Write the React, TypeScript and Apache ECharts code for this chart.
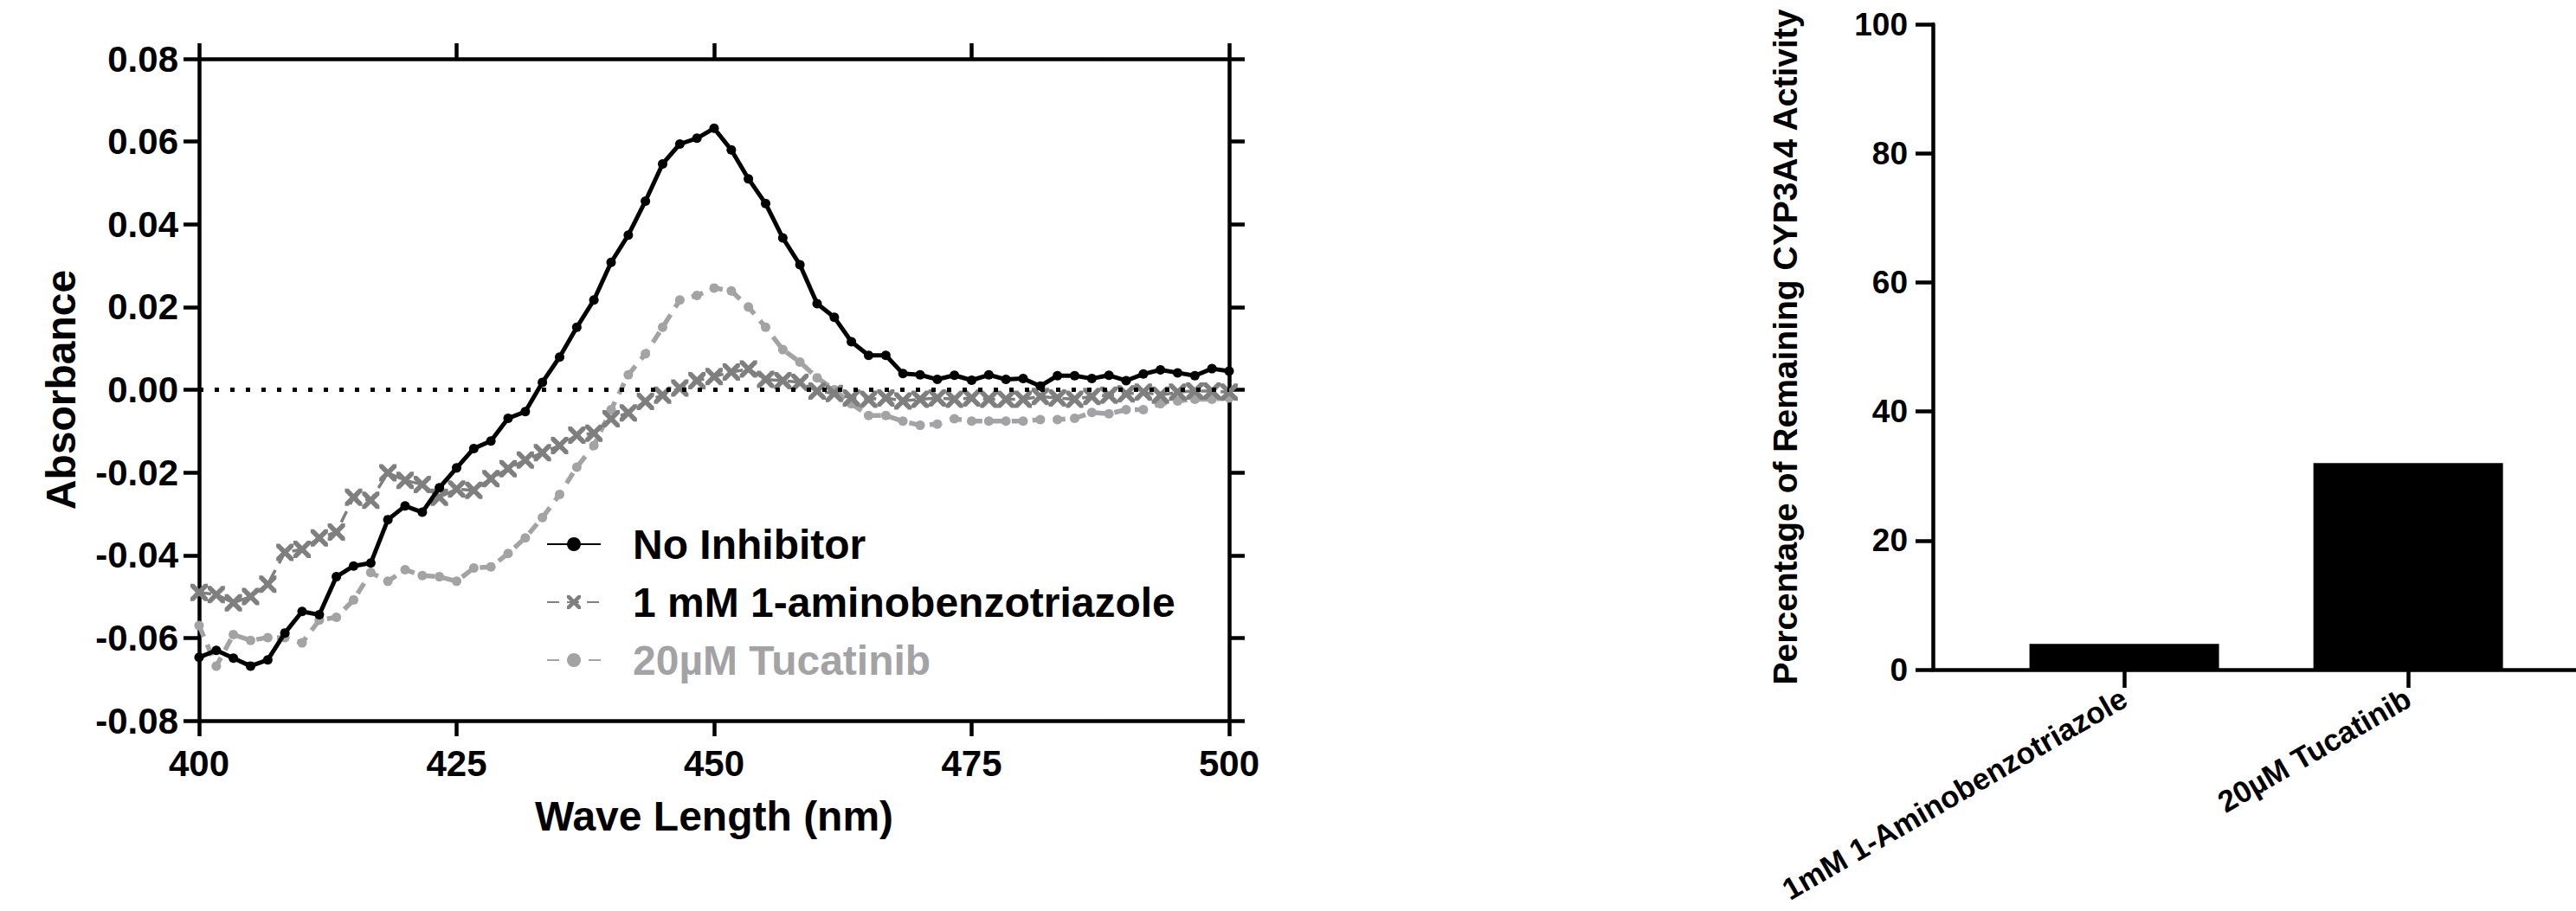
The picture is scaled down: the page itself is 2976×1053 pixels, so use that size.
import React, { useEffect, useRef } from "react";
import * as echarts from "echarts";

// ---------- Data ----------
const wavelengths = [
  400, 401.67, 403.33, 405, 406.67, 408.33, 410, 411.67, 413.33, 415,
  416.67, 418.33, 420, 421.67, 423.33, 425, 426.67, 428.33, 430, 431.67,
  433.33, 435, 436.67, 438.33, 440, 441.67, 443.33, 445, 446.67, 448.33,
  450, 451.67, 453.33, 455, 456.67, 458.33, 460, 461.67, 463.33, 465,
  466.67, 468.33, 470, 471.67, 473.33, 475, 476.67, 478.33, 480, 481.67,
  483.33, 485, 486.67, 488.33, 490, 491.67, 493.33, 495, 496.67, 498.33, 500,
];

const noInhibitor = [
  -0.0647, -0.063, -0.0649, -0.0668, -0.0653, -0.0588, -0.0536, -0.0544, -0.0452, -0.0426,
  -0.0419, -0.0314, -0.0281, -0.0296, -0.0237, -0.0189, -0.0142, -0.0124, -0.0069, -0.0053,
  0.0018, 0.0079, 0.0151, 0.0217, 0.0308, 0.0374, 0.0456, 0.0546, 0.0594, 0.0608,
  0.0632, 0.058, 0.051, 0.045, 0.0367, 0.0302, 0.0208, 0.0175, 0.0116, 0.0083,
  0.0083, 0.0039, 0.0036, 0.0025, 0.0035, 0.0023, 0.0036, 0.0025, 0.0027, 0.0009,
  0.0034, 0.0034, 0.0027, 0.0035, 0.0022, 0.0038, 0.0048, 0.0041, 0.0034, 0.0051, 0.0045,
];

const aminobenzotriazole = [
  -0.049, -0.0495, -0.0515, -0.05, -0.047, -0.0393, -0.0386, -0.0358, -0.0344, -0.026,
  -0.0267, -0.0201, -0.0219, -0.0229, -0.026, -0.024, -0.0243, -0.0215, -0.0191, -0.017,
  -0.0152, -0.0135, -0.011, -0.0105, -0.007, -0.0056, -0.0028, -0.0013, 0.0004, 0.0022,
  0.0032, 0.0043, 0.005, 0.0025, 0.0022, 0.0018, -0.0003, -0.0009, -0.002, -0.0023,
  -0.002, -0.0027, -0.0023, -0.002, -0.0023, -0.002, -0.0023, -0.0023, -0.0023, -0.0016,
  -0.002, -0.0023, -0.0016, -0.0013, -0.001, -0.0006, -0.0013, -0.0006, -0.0003, -0.0003, -0.0006,
];

const tucatinib = [
  -0.057, -0.0668, -0.0592, -0.0606, -0.0599, -0.0599, -0.0612, -0.0557, -0.055, -0.0508,
  -0.0442, -0.0463, -0.0435, -0.0449, -0.0452, -0.0463, -0.0431, -0.0428, -0.0396, -0.0358,
  -0.0309, -0.0253, -0.0187, -0.0135, -0.0048, 0.0036, 0.0087, 0.0151, 0.0217, 0.0228,
  0.0246, 0.0239, 0.02, 0.0151, 0.0097, 0.0067, 0.0029, 0.0, -0.0034, -0.0062,
  -0.0062, -0.0076, -0.0086, -0.0083, -0.007, -0.0076, -0.0076, -0.0076, -0.0076, -0.0072,
  -0.0072, -0.0069, -0.0055, -0.0058, -0.0048, -0.0048, -0.0034, -0.0027, -0.0023, -0.0023, -0.002,
];

const seriesNames = ["No Inhibitor", "1 mM 1-aminobenzotriazole", "20µM Tucatinib"];

const barCategories = ["1mM 1-Aminobenzotriazole", "20µM Tucatinib"];
const barValues = [4, 32];

// ---------- Styles ----------
const FONT = "'Liberation Sans', Arial, Helvetica, sans-serif";
const BLACK = "#000000";
const GRAY = "#7f7f7f";
const LIGHT = "#a3a3a6";
const AXW = 4.5;

const X_SYMBOL =
  "path://M0,0L4,0L10,6L16,0L20,0L20,4L14,10L20,16L20,20L16,20L10,14L4,20L0,20L0,16L6,10L0,4Z";

const pairs = (ys: number[]) => wavelengths.map((x, i) => [x, ys[i]]);

function buildOption(): any {
  const axisLineStyle = { color: BLACK, width: AXW };
  const labelStyle = {
    color: BLACK,
    fontFamily: FONT,
    fontWeight: "bold",
  };
  return {
    animation: false,
    backgroundColor: "#ffffff",
    grid: [
      { left: 230, top: 68, width: 1190, height: 765, containLabel: false, outerBoundsMode: "none" },
      { left: 2233, top: 28, width: 743, height: 746, containLabel: false, outerBoundsMode: "none" },
    ],
    legend: {
      orient: "vertical",
      left: 626,
      top: 600,
      itemWidth: 62,
      itemHeight: 20,
      itemGap: 19,
      selectedMode: false,
      textStyle: {
        ...labelStyle,
        fontSize: 48,
        lineHeight: 48,
        padding: [0, 0, 0, 32],
      },
      data: [
        { name: seriesNames[0], textStyle: { color: BLACK } },
        { name: seriesNames[1], textStyle: { color: BLACK } },
        { name: seriesNames[2], textStyle: { color: LIGHT } },
      ],
    },
    xAxis: [
      {
        gridIndex: 0,
        type: "value",
        position: "bottom",
        min: 400,
        max: 500,
        interval: 25,
        axisLine: { onZero: false, lineStyle: axisLineStyle },
        axisTick: { show: true, length: 18, lineStyle: axisLineStyle },
        axisLabel: { ...labelStyle, fontSize: 42, margin: 28 },
        splitLine: { show: false },
        name: "Wave Length (nm)",
        nameLocation: "middle",
        nameGap: 86,
        nameTextStyle: { ...labelStyle, fontSize: 48 },
      },
      {
        gridIndex: 0,
        type: "value",
        position: "top",
        min: 400,
        max: 500,
        interval: 25,
        axisLine: { onZero: false, lineStyle: axisLineStyle },
        axisTick: { show: true, length: 18, lineStyle: axisLineStyle },
        axisLabel: { show: false },
        splitLine: { show: false },
      },
      {
        gridIndex: 1,
        type: "value",
        position: "bottom",
        min: -0.674,
        max: 1.591,
        axisLine: { onZero: false, lineStyle: axisLineStyle },
        axisTick: {
          show: true,
          length: 21,
          lineStyle: axisLineStyle,
          customValues: [0, 1],
        },
        axisLabel: {
          ...labelStyle,
          fontSize: 35,
          rotate: 30,
          margin: 30,
          customValues: [0, 1],
          formatter: (v: number) => barCategories[Math.round(v)] ?? "",
        },
        splitLine: { show: false },
      },
    ],
    yAxis: [
      {
        gridIndex: 0,
        type: "value",
        position: "left",
        min: -0.08,
        max: 0.08,
        interval: 0.02,
        axisLine: { onZero: false, lineStyle: axisLineStyle },
        axisTick: { show: true, length: 18, lineStyle: axisLineStyle },
        axisLabel: {
          ...labelStyle,
          fontSize: 42,
          margin: 24,
          formatter: (v: number) => v.toFixed(2),
        },
        splitLine: { show: false },
        name: "Absorbance",
        nameLocation: "middle",
        nameGap: 136,
        nameTextStyle: { ...labelStyle, fontSize: 48 },
      },
      {
        gridIndex: 0,
        type: "value",
        position: "right",
        min: -0.08,
        max: 0.08,
        interval: 0.02,
        axisLine: { onZero: false, lineStyle: axisLineStyle },
        axisTick: { show: true, length: 18, lineStyle: axisLineStyle },
        axisLabel: { show: false },
        splitLine: { show: false },
      },
      {
        gridIndex: 1,
        type: "value",
        position: "left",
        min: 0,
        max: 100,
        interval: 20,
        axisLine: { onZero: false, lineStyle: axisLineStyle },
        axisTick: { show: true, length: 20, lineStyle: axisLineStyle },
        axisLabel: { ...labelStyle, fontSize: 37, margin: 29 },
        splitLine: { show: false },
        name: "Percentage of Remaining CYP3A4 Activity",
        nameLocation: "middle",
        nameGap: 151,
        nameTextStyle: { ...labelStyle, fontSize: 39 },
      },
    ],
    series: [
      {
        name: seriesNames[2],
        type: "line",
        xAxisIndex: 0,
        yAxisIndex: 0,
        z: 2,
        data: pairs(tucatinib),
        symbol: "circle",
        symbolSize: 11,
        showAllSymbol: true,
        color: LIGHT,
        itemStyle: { color: LIGHT },
        lineStyle: { color: LIGHT, width: 5.5, type: [14, 10] },
      },
      {
        name: seriesNames[1],
        type: "line",
        xAxisIndex: 0,
        yAxisIndex: 0,
        z: 3,
        data: pairs(aminobenzotriazole),
        symbol: X_SYMBOL,
        symbolSize: 20,
        showAllSymbol: true,
        color: GRAY,
        itemStyle: { color: GRAY },
        lineStyle: { color: GRAY, width: 3.5, type: [14, 9] },
      },
      {
        name: seriesNames[0],
        type: "line",
        xAxisIndex: 0,
        yAxisIndex: 0,
        z: 4,
        data: pairs(noInhibitor),
        symbol: "circle",
        symbolSize: 11,
        showAllSymbol: true,
        color: BLACK,
        itemStyle: { color: BLACK },
        lineStyle: { color: BLACK, width: 5 },
        markLine: {
          silent: true,
          symbol: ["none", "none"],
          label: { show: false },
          lineStyle: { color: BLACK, width: 5, type: [5, 13] },
          data: [{ yAxis: 0 }],
        },
      },
      {
        name: "Remaining activity",
        type: "bar",
        xAxisIndex: 2,
        yAxisIndex: 2,
        barWidth: 219,
        itemStyle: { color: BLACK },
        data: barCategories.map((_, i) => [i, barValues[i]]),
      },
    ],
  };
}

export default function App() {
  const ref = useRef<HTMLDivElement>(null);
  useEffect(() => {
    if (!ref.current) return;
    const chart = echarts.init(ref.current, undefined, { renderer: "svg" });
    chart.setOption(buildOption());
    return () => chart.dispose();
  }, []);
  return (
    <div
      ref={ref}
      style={{
        position: "fixed",
        left: 0,
        top: 0,
        width: 2976,
        height: 1053,
        background: "#ffffff",
      }}
    />
  );
}
